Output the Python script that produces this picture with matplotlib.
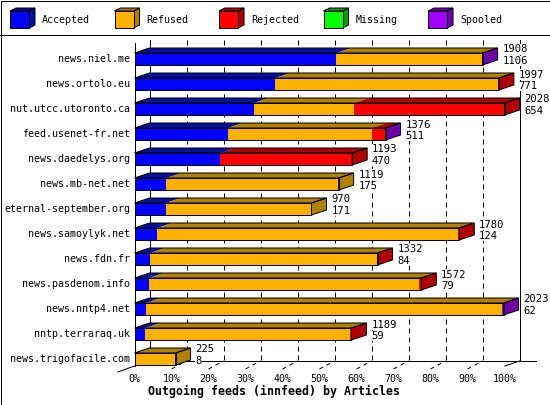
import matplotlib
matplotlib.use("Agg")
import matplotlib.pyplot as plt
from matplotlib.patches import Polygon, Rectangle
from matplotlib.lines import Line2D
import numpy as np

feeds = ["news.niel.me", "news.ortolo.eu", "nut.utcc.utoronto.ca", "feed.usenet-fr.net",
         "news.daedelys.org", "news.mb-net.net", "eternal-september.org", "news.samoylyk.net",
         "news.fdn.fr", "news.pasdenom.info", "news.nntp4.net", "nntp.terraraq.uk",
         "news.trigofacile.com"]
offered = [1908, 1997, 2028, 1376, 1193, 1119, 970, 1780, 1332, 1572, 2023, 1189, 225]
accepted = [1106, 771, 654, 511, 470, 175, 171, 124, 84, 79, 62, 59, 8]
refused = [798, 1219, 550, 792, 0, 944, 799, 1651, 1243, 1481, 1953, 1121, 217]
rejected = [0, 7, 824, 70, 723, 0, 0, 5, 5, 12, 0, 9, 0]
missing = [0, 0, 0, 0, 0, 0, 0, 0, 0, 0, 0, 0, 0]
spooled = [4, 0, 0, 3, 0, 0, 0, 0, 0, 0, 8, 0, 0]
categories = ["Accepted", "Refused", "Rejected", "Missing", "Spooled"]
xticks = list(range(0, 101, 10))
xlabel = "Outgoing feeds (innfeed) by Articles"

front_colors = ["#0000ff", "#ffb000", "#ff0000", "#00ff00", "#a000ff"]
dark_colors = ["#0010a0", "#b08000", "#b00000", "#00a000", "#7000a8"]

W, H = 550, 405
LW = 0.72  # 1 px
plt.rcParams["font.family"] = "DejaVu Sans Mono"

fig = plt.figure(figsize=(W / 100, H / 100), dpi=100)

# pixel layout of the plot box
X0, X1 = 134.5, 504.5
ROW0, ROWSTEP = 59, 25
TOP, FLOOR = 40, 361


def row(px):
    return (px - ROW0) / ROWSTEP


ax = fig.add_axes([X0 / W, 1 - FLOOR / H, (X1 - X0) / W, (FLOOR - TOP) / H])
ax.set_xlim(0, 100)
ax.set_ylim(row(FLOOR), row(TOP))
ax.axis("off")

DX = 15 / (X1 - X0) * 100
DY = 5 / ROWSTEP
BH = 12 / ROWSTEP

vals = np.array([accepted, refused, rejected, missing, spooled], dtype=float)
pct = vals / max(offered) * 100
rows = np.arange(len(feeds))

# back wall grid
for t in xticks:
    solid = t in (0, 100)
    ax.plot([t + DX, t + DX], [row(TOP), row(FLOOR)], color="black", lw=LW,
            ls="-" if solid else (0, (5, 4)), zorder=0, clip_on=False)
    if 0 < t < 100:
        ax.plot([t, t + DX], [row(369), row(FLOOR)], color="black", lw=LW,
                ls=(0, (4, 4)), zorder=0, clip_on=False)
# floor and front axis
ax.plot([DX, 100 + 8.6], [row(FLOOR), row(FLOOR)], color="black", lw=LW, zorder=0, clip_on=False)
ax.plot([100 + 0.1, 100 + DX], [row(366), row(FLOOR)], color="black", lw=LW, zorder=0, clip_on=False)
ax.plot([0, 0], [row(43), row(366)], color="black", lw=LW, zorder=1, clip_on=False)
ax.plot([-4.5, 0], [row(372), row(366)], color="black", lw=LW, zorder=1, clip_on=False)

# bars
lefts = np.zeros(len(feeds))
for k in range(len(categories)):
    ax.barh(rows, pct[k], left=lefts, height=BH, color=front_colors[k], lw=0, zorder=2,
            clip_on=False)
    for i in rows:
        if pct[k, i] <= 0:
            continue
        l, r = lefts[i], lefts[i] + pct[k, i]
        yt = i - BH / 2
        ax.add_patch(Polygon([(l, yt), (r, yt), (r + DX, yt - DY), (l + DX, yt - DY)],
                             closed=True, fc=dark_colors[k], lw=0, zorder=2, clip_on=False))
    lefts = lefts + pct[k]

for i in rows:
    tot = lefts[i]
    yt, yb = i - BH / 2, i + BH / 2
    last = max(k for k in range(len(categories)) if vals[k, i] > 0)
    side = [(tot, yt), (tot + DX, yt - DY), (tot + DX, yb - DY), (tot, yb)]
    ax.add_patch(Polygon(side, closed=True, fc=dark_colors[last], ec="black", lw=LW,
                         zorder=3, clip_on=False))
    ax.add_patch(Polygon([(0, yt), (tot, yt), (tot + DX, yt - DY), (DX, yt - DY)],
                         closed=True, fill=False, ec="black", lw=LW, zorder=3, clip_on=False))
    ax.add_patch(Rectangle((0, yt), tot, BH, fill=False, ec="black", lw=LW, zorder=3,
                           clip_on=False))
    box = dict(fc="white", ec="none", pad=0.3)
    ax.text(tot + DX + 1.3, i - 0.38, str(offered[i]), ha="left", va="center",
            fontsize=7.6, bbox=box, zorder=4, clip_on=False)
    ax.text(tot + DX + 1.3, i + 0.08, str(accepted[i]), ha="left", va="center",
            fontsize=7.6, bbox=box, zorder=4, clip_on=False)
    ax.text(-1.1, i, feeds[i], ha="right", va="center", fontsize=7.2, clip_on=False)

for t in xticks:
    ax.text(t, row(378.5), f"{t}%", ha="center", va="center", fontsize=7.2, clip_on=False)
fig.text(274 / W, 1 - 391 / H, xlabel, ha="center", va="center", fontsize=8.4,
         fontweight="bold")

# legend
lax = fig.add_axes([0, 1 - 36 / H, 1, 36 / H])
lax.set_xlim(0, W)
lax.set_ylim(36, 0)
lax.axis("off")
for k, name in enumerate(categories):
    x = 10 + 104.5 * k
    lax.add_patch(Polygon([(x + 19, 11), (x + 25, 8), (x + 25, 25), (x + 19, 28)],
                          closed=True, fc=dark_colors[k], ec="black", lw=LW))
    lax.add_patch(Polygon([(x, 11), (x + 19, 11), (x + 25, 8), (x + 6, 8)],
                          closed=True, fc=dark_colors[k], ec="black", lw=LW))
    lax.add_patch(Rectangle((x, 11), 19, 17, fc=front_colors[k], ec="black", lw=LW))
    lax.text(x + 32, 20, name, ha="left", va="center", fontsize=7.2)

fig.add_artist(Line2D([0, 1], [1 - 35 / H, 1 - 35 / H], color="black", lw=LW))
fig.add_artist(Rectangle((0.5 / W, 0.5 / H), 1 - 1 / W, 1 - 1 / H, fill=False,
                         ec="black", lw=LW, transform=fig.transFigure))

fig.savefig("out.png", dpi=100)
